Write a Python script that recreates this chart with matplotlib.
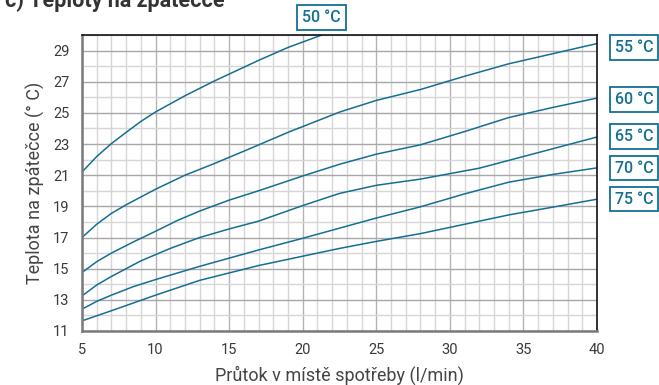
import matplotlib
matplotlib.use("Agg")
import matplotlib.pyplot as plt
from matplotlib.ticker import MultipleLocator

plt.rcParams['font.family'] = ['Roboto', 'DejaVu Sans']

# hodnoty: průtok (l/min) -> teplota na zpátečce (°C)
x50 = [5, 6, 7, 8, 9, 10, 12, 14, 17, 19, 21.3, 22]
t50 = [21.2, 22.2, 23.03, 23.75, 24.45, 25.06, 26.1, 27.05, 28.37, 29.2, 30.0, 30.3]

x55 = [5, 6, 7, 8, 9, 10, 12, 14, 16.4, 19, 22.5, 25, 28, 31, 34, 37, 40]
t55 = [17.0, 17.85, 18.55, 19.1, 19.6, 20.1, 21.0, 21.75, 22.7, 23.75, 25.05, 25.8, 26.5, 27.35, 28.15, 28.8, 29.45]

x60 = [5, 6, 7, 8.5, 10, 11.5, 13, 15, 17, 20, 22.5, 25, 28, 31, 34, 37, 40]
t60 = [14.75, 15.45, 16.0, 16.72, 17.4, 18.1, 18.7, 19.4, 20.0, 20.95, 21.7, 22.35, 22.95, 23.8, 24.7, 25.35, 25.95]

x65 = [5, 6, 7, 9, 11, 13, 15, 17, 20, 22.5, 25, 28, 32, 34, 37, 40]
t65 = [13.25, 13.95, 14.5, 15.5, 16.3, 17.0, 17.55, 18.05, 19.05, 19.83, 20.35, 20.75, 21.45, 21.95, 22.7, 23.45]

x70 = [5, 6, 7, 8.5, 10, 13, 17, 20, 22.5, 25, 28, 31, 34, 37, 40]
t70 = [12.4, 12.9, 13.3, 13.85, 14.3, 15.15, 16.2, 16.95, 17.6, 18.25, 18.97, 19.8, 20.55, 21.05, 21.47]

x75 = [5, 7, 10, 13, 17, 20, 22.5, 25, 28, 31, 34, 37, 40]
t75 = [11.65, 12.3, 13.3, 14.25, 15.2, 15.8, 16.3, 16.75, 17.25, 17.85, 18.45, 18.95, 19.46]

series = [(x50, t50), (x55, t55), (x60, t60), (x65, t65), (x70, t70), (x75, t75)]
labels = ["50 °C", "55 °C", "60 °C", "65 °C", "70 °C", "75 °C"]
label_y = [29.2, 25.87, 23.5, 21.45, 19.46]

line_color = '#146f93'
text_grey = '#3a3a3a'

fig = plt.figure(figsize=(6.59, 3.85), dpi=100)
ax = fig.add_axes([0.1244, 0.1403, 0.7815, 0.7688])

for xs, ts in series:
    ax.plot(xs, ts, color=line_color, lw=1.1, solid_joinstyle='round')

ax.set_xlim(5, 40)
ax.set_ylim(11, 30)
ax.xaxis.set_major_locator(MultipleLocator(5))
ax.xaxis.set_minor_locator(MultipleLocator(1))
ax.set_yticks(range(11, 30, 2))
ax.yaxis.set_minor_locator(MultipleLocator(1))
ax.grid(which='minor', color='#d6d6d6', lw=1.0)
ax.grid(which='major', axis='y', color='#a8a8a8', lw=1.0)
ax.grid(which='major', axis='x', color='#b4b4b4', lw=1.0)
ax.set_axisbelow(True)
ax.tick_params(which='both', length=0, labelsize=10.5, colors=text_grey, pad=9)
ax.tick_params(axis='y', pad=9)

for s in ('left', 'bottom'):
    ax.spines[s].set_color('#7a7a7a')
    ax.spines[s].set_linewidth(1.8)
for s in ('top', 'right'):
    ax.spines[s].set_color('#111111')
    ax.spines[s].set_linewidth(1.2)

ax.set_xlabel("Průtok v místě spotřeby (l/min)", fontsize=13,
              color='#444444', labelpad=6)
ax.set_ylabel("Teplota na zpátečce (° C)", fontsize=13,
              color='#444444', labelpad=6)

box = dict(boxstyle='square,pad=0.3', fc='white', ec=line_color, lw=1.3)
# štítek 50 °C nad grafem, ostatní vpravo u konců křivek
ax.text(21.28, 31.13, labels[0], ha='center', va='center', fontsize=11.5,
        fontweight='medium', color=line_color, bbox=box, clip_on=False)
for lab, ypos in zip(labels[1:], label_y):
    ax.text(42.53, ypos, lab, ha='center', va='center', fontsize=11.5,
            fontweight='medium', color=line_color, bbox=box, clip_on=False)

fig.text(0.008, 1 - 7 / 385, "c) Teploty na zpátečce", fontsize=15.5, fontweight='bold',
         color='#333333', va='baseline', ha='left')

fig.savefig("out.png", dpi=100)
